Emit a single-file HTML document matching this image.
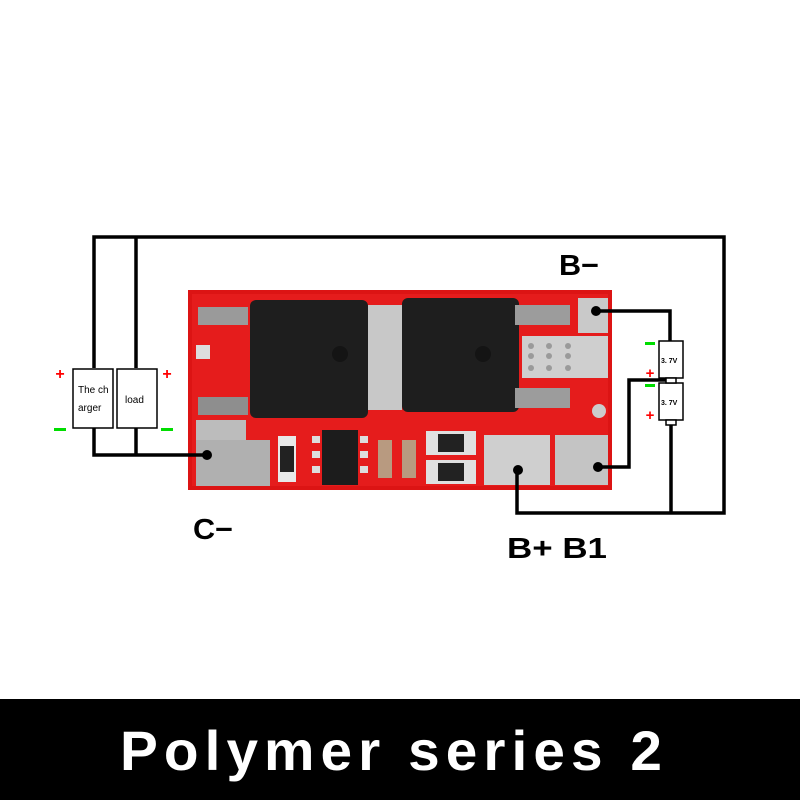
<!DOCTYPE html>
<html><head><style>html,body{margin:0;padding:0;background:#fff;}svg{display:block}</style></head>
<body>
<svg width="800" height="800" viewBox="0 0 800 800" xmlns="http://www.w3.org/2000/svg">
<rect width="800" height="800" fill="#fff"/>
<rect x="188" y="290" width="424" height="200" fill="#dc1414"/>
<rect x="192" y="294" width="416" height="192" fill="#e51c1c"/>
<rect x="198" y="307" width="50" height="18" fill="#9a9a9a"/>
<rect x="198" y="397" width="50" height="18" fill="#8e8e8e"/>
<rect x="196" y="345" width="14" height="14" fill="#ddd"/>
<rect x="196" y="420" width="50" height="20" fill="#bcbcbc"/>
<rect x="196" y="440" width="74" height="46" fill="#b0b0b0"/>
<rect x="368" y="305" width="34" height="105" fill="#c8c8c8"/>
<rect x="250" y="300" width="118" height="118" rx="6" fill="#1e1e1e"/>
<rect x="402" y="298" width="117" height="114" rx="6" fill="#1e1e1e"/>
<circle cx="340" cy="354" r="8" fill="#141414"/>
<circle cx="483" cy="354" r="8" fill="#141414"/>
<rect x="515" y="305" width="55" height="20" fill="#9c9c9c"/>
<rect x="515" y="388" width="55" height="20" fill="#9c9c9c"/>
<rect x="578" y="298" width="30" height="35" fill="#c9c9c9"/>
<rect x="522" y="336" width="86" height="42" fill="#cfcfcf"/>
<g fill="#9a9a9a"><circle cx="531" cy="346" r="3"/><circle cx="549" cy="346" r="3"/><circle cx="568" cy="346" r="3"/><circle cx="531" cy="356" r="3"/><circle cx="549" cy="356" r="3"/><circle cx="568" cy="356" r="3"/><circle cx="531" cy="368" r="3"/><circle cx="549" cy="368" r="3"/><circle cx="568" cy="368" r="3"/></g>
<circle cx="599" cy="411" r="7" fill="#ccc"/>
<rect x="484" y="435" width="66" height="50" fill="#cfcfcf"/>
<rect x="555" y="435" width="53" height="50" fill="#c4c4c4"/>
<rect x="278" y="436" width="18" height="46" fill="#e8e8e8"/>
<rect x="280" y="446" width="14" height="26" fill="#222"/>
<rect x="322" y="430" width="36" height="55" fill="#1c1c1c"/>
<g fill="#ddd"><rect x="312" y="436" width="8" height="7"/><rect x="312" y="451" width="8" height="7"/><rect x="312" y="466" width="8" height="7"/><rect x="360" y="436" width="8" height="7"/><rect x="360" y="451" width="8" height="7"/><rect x="360" y="466" width="8" height="7"/></g>
<rect x="378" y="440" width="14" height="38" fill="#b89a80"/>
<rect x="402" y="440" width="14" height="38" fill="#b89a80"/>
<rect x="426" y="431" width="50" height="24" fill="#e0e0e0"/>
<rect x="438" y="434" width="26" height="18" fill="#222"/>
<rect x="426" y="460" width="50" height="24" fill="#e0e0e0"/>
<rect x="438" y="463" width="26" height="18" fill="#222"/>
<g stroke="#000" stroke-width="3.5" fill="none">
<polyline points="94,368 94,237 724,237 724,513 517,513 517,470"/>
<line x1="136" y1="237" x2="136" y2="368"/>
<polyline points="94,428 94,455 207,455"/>
<line x1="136" y1="428" x2="136" y2="455"/>
<polyline points="596,311 670,311 670,341"/>
<polyline points="598,467 629,467 629,380 666,380"/>
<line x1="671" y1="425" x2="671" y2="513"/>
</g>
<g fill="#000"><circle cx="207" cy="455" r="5"/><circle cx="596" cy="311" r="5"/><circle cx="598" cy="467" r="5"/><circle cx="518" cy="470" r="5"/></g>
<g stroke="#000" stroke-width="1.5" fill="#fff">
<rect x="73" y="369" width="40" height="59"/>
<rect x="117" y="369" width="40" height="59"/>
<rect x="659" y="341" width="24" height="37"/>
<rect x="659" y="383" width="24" height="37"/>
<rect x="666" y="378" width="10" height="5"/>
<rect x="666" y="420" width="10" height="5"/>
</g>
<g font-family="Liberation Sans, sans-serif" font-size="10" fill="#000">
<text x="78" y="393">The ch</text><text x="78" y="411">arger</text>
<text x="125" y="403">load</text>
<text x="661" y="363" font-size="7" font-weight="bold">3. 7V</text>
<text x="661" y="405" font-size="7" font-weight="bold">3. 7V</text>
</g>
<g font-family="Liberation Sans, sans-serif" font-weight="bold">
<text x="60" y="379" fill="#f00" font-size="16" text-anchor="middle">+</text>
<text x="167" y="379" fill="#f00" font-size="16" text-anchor="middle">+</text>
<rect x="54" y="428" width="12" height="3" fill="#0d0"/>
<rect x="161" y="428" width="12" height="3" fill="#0d0"/>
<rect x="645" y="342" width="10" height="3" fill="#0d0"/>
<rect x="645" y="384" width="10" height="3" fill="#0d0"/>
<text x="650" y="378" fill="#f00" font-size="15" text-anchor="middle">+</text>
<text x="650" y="420" fill="#f00" font-size="15" text-anchor="middle">+</text>
</g>
<g font-family="Liberation Sans, sans-serif" font-size="29" font-weight="bold" fill="#000">
<text x="559" y="275" textLength="40" lengthAdjust="spacingAndGlyphs">B−</text>
<text x="193" y="539" textLength="40" lengthAdjust="spacingAndGlyphs">C−</text>
<text x="507" y="558" textLength="100" lengthAdjust="spacingAndGlyphs">B+  B1</text>
</g>
<rect x="0" y="699" width="800" height="101" fill="#000"/>
<text x="120" y="770" font-family="Liberation Sans, sans-serif" font-weight="bold" font-size="56" fill="#fff" textLength="548" lengthAdjust="spacingAndGlyphs" letter-spacing="6">Polymer series 2</text>
</svg>
</body></html>
